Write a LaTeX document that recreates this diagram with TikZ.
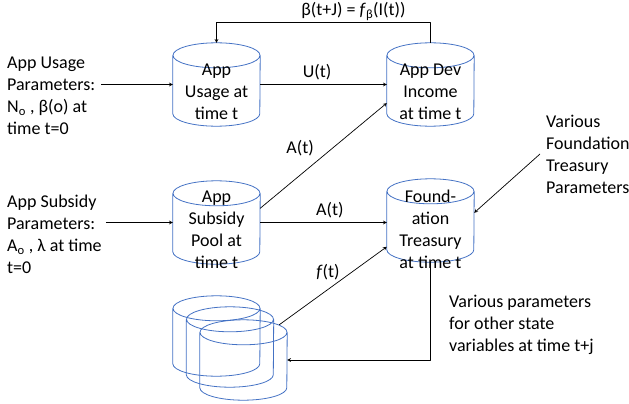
\documentclass[tikz,border=0pt]{standalone}
\usepackage{fontspec}
\setmainfont{Carlito}
\definecolor{tankblue}{RGB}{68,114,196}
\tikzset{
  tank/.style={minimum width=87pt, minimum height=83pt, inner sep=0pt},
  tankline/.style={draw=tankblue, line width=0.8pt},
  tanktext/.style={align=center, inner sep=0pt},
  note/.style={align=left, anchor=west, inner sep=0pt},
  flow/.style={->, line width=0.7pt},
}
\begin{document}
\begin{tikzpicture}[>=stealth, x=1pt, y=-1pt, line join=round,
  font=\fontsize{18}{22}\selectfont]
\useasboundingbox (0,0) rectangle (629,404);
% stocks
\node[tank] (usage) at (216.5,84.5) {};
\node[tank] (income) at (430.5,84.5) {};
\node[tank] (pool) at (216.5,222.5) {};
\node[tank] (treasury) at (430.5,220.5) {};
\node[tank, minimum height=80pt] (stackA) at (216.5,336) {};
\node[tank, minimum height=80pt] (stackB) at (230,347) {};
\node[tank, minimum height=80pt] (stackC) at (243.5,360) {};
\foreach \t in {usage,income,pool,treasury,stackA,stackB,stackC}
  \draw[tankline] ([yshift=-12.5pt]\t.north west) -- ([yshift=12.5pt]\t.south west)
    arc[start angle=180, end angle=360, x radius=43.5pt, y radius=12.5pt]
    -- ([yshift=-12.5pt]\t.north east)
    ([yshift=-12.5pt]\t.north) ellipse[x radius=43.5pt, y radius=12.5pt];
\node[tanktext] (usagetxt) at ([yshift=-7.5pt]usage.center) {App\\Usage at\\time t};
\node[tanktext] (incometxt) at ([yshift=-7.5pt]income.center) {App Dev\\Income\\at time t};
\node[tanktext] (pooltxt) at ([yshift=-7.5pt]pool.center) {App\\Subsidy\\Pool at\\time t};
\node[tanktext] (treasurytxt) at ([yshift=-8.5pt]treasury.center) {Found-\\ation\\Treasury\\at time t};
% parameters
\node[note] (uparams) at (7,96) {App Usage\\Parameters:\\N\textsubscript{o} , β(o) at\\time t=0};
\node[note] (sparams) at (7,234.5) {App Subsidy\\Parameters:\\A\textsubscript{o} , λ at time\\t=0};
\node[note] (tparams) at (546,154) {Various\\Foundation\\Treasury\\Parameters};
\node[note] (vparams) at (449,324.5) {Various parameters\\for other state\\variables at time t+j};
% flows
\coordinate (fbtop) at (216.5,22);
\draw[flow] (income.north) |- (fbtop) node[pos=0.68, above=-2pt] {β(t+J) = \textit{f}\textsubscript{β}(I(t))} -- (usage.north);
\draw[flow, shorten <=6pt] (uparams.east |- usage.west) -- (usage.west);
\draw[flow] (usage.east) -- (income.west) node[pos=0.45, above=1pt] {U(t)};
\draw[flow] (pool.18) -- (income.203) node[midway, anchor=south east, xshift=-6pt, yshift=-4pt] {A(t)};
\draw[flow, shorten <=4pt] (sparams.east |- pool.west) -- (pool.west);
\draw[flow] (pool.east) -- (pool.east -| treasury.west) node[pos=0.55, above=1pt] {A(t)};
\draw[flow] ([xshift=-6pt]tparams.west) -- (treasury.10);
\draw[flow] ([xshift=-8pt,yshift=-5pt]stackC.north east) -- (treasury.211) node[midway, above=2pt, xshift=-5pt] {\textit{f}(t)};
\draw[flow] (treasury.south) |- (stackC.east);
\end{tikzpicture}
\end{document}
